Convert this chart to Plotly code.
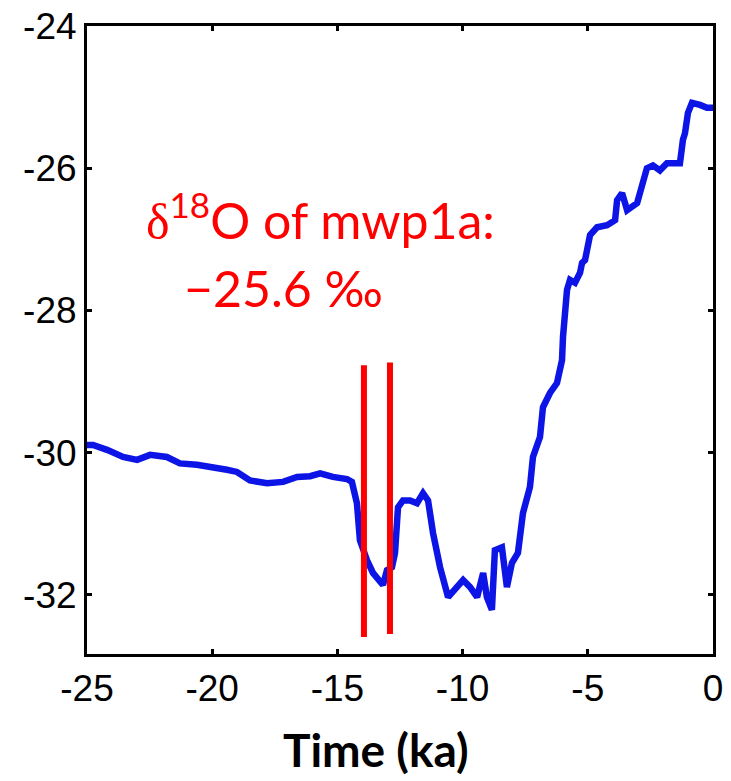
import plotly.graph_objects as go

# Time (ka) and d18O values
time_ka = [
    -25.0, -24.76, -24.2, -23.56, -23.0, -22.48, -21.81, -21.29, -20.61, -19.97,
    -19.41, -19.01, -18.49, -17.81, -17.17, -16.61, -16.09, -15.69, -15.18, -14.62,
    -14.42, -14.22, -14.10, -13.82, -13.58, -13.18, -13.02, -12.82, -12.70, -12.58,
    -12.38, -12.10, -11.82, -11.58, -11.38, -11.18, -10.90, -10.58, -10.22, -9.98,
    -9.70, -9.42, -9.18, -9.03, -8.83, -8.71, -8.43, -8.23, -8.03, -7.79,
    -7.59, -7.31, -7.19, -6.91, -6.79, -6.51, -6.23, -6.03, -5.99, -5.91,
    -5.83, -5.71, -5.51, -5.31, -5.23, -5.11, -4.99, -4.91, -4.63, -4.23,
    -3.91, -3.83, -3.63, -3.43, -3.03, -2.84, -2.64, -2.40, -2.12, -1.84,
    -1.32, -1.20, -1.12, -1.00, -0.84, -0.52, -0.24, 0.0,
]
d18o = [
    -29.89, -29.89, -29.96, -30.06, -30.10, -30.03, -30.06, -30.15, -30.17, -30.20,
    -30.24, -30.27, -30.39, -30.43, -30.41, -30.34, -30.33, -30.29, -30.34, -30.37,
    -30.41, -30.71, -31.23, -31.51, -31.69, -31.86, -31.65, -31.61, -31.41, -30.77,
    -30.67, -30.67, -30.71, -30.57, -30.67, -31.13, -31.61, -32.03, -31.90, -31.79,
    -31.89, -32.03, -31.69, -32.03, -32.21, -31.37, -31.33, -31.89, -31.55, -31.41,
    -30.85, -30.48, -30.06, -29.78, -29.36, -29.16, -29.02, -28.70, -28.37, -28.04,
    -27.71, -27.57, -27.61, -27.47, -27.33, -27.29, -27.01, -26.94, -26.83, -26.80,
    -26.73, -26.45, -26.35, -26.59, -26.49, -26.21, -26.00, -25.96, -26.03, -25.93,
    -25.93, -25.60, -25.51, -25.22, -25.08, -25.11, -25.15, -25.15,
]

# mwp1a marker lines (time, bottom, top)
marker_time = [-13.94, -12.90]
marker_bottom = [-32.59, -32.55]
marker_top = [-28.77, -28.73]

x_tickvals = [-25, -20, -15, -10, -5, 0]
x_ticktext = ["-25", "-20", "-15", "-10", "-5", "0"]
y_tickvals = [-24, -26, -28, -30, -32]
y_ticktext = ["-24", "-26", "-28", "-30", "-32"]

fig = go.Figure()
fig.add_trace(go.Scatter(x=time_ka, y=d18o, mode="lines",
                         line=dict(color="rgb(12,20,230)", width=6.5),
                         showlegend=False, hoverinfo="skip"))
for t, b, tp in zip(marker_time, marker_bottom, marker_top):
    fig.add_trace(go.Scatter(x=[t, t], y=[b, tp], mode="lines",
                             line=dict(color="#ff0000", width=6),
                             showlegend=False, hoverinfo="skip"))

tickfont = dict(family="Liberation Sans, Arial, sans-serif", size=37, color="black")
axis_common = dict(showline=True, linecolor="black", linewidth=3, mirror="ticks",
                   ticks="inside", ticklen=5, tickwidth=3, tickcolor="black",
                   showgrid=False, zeroline=False, tickfont=tickfont, automargin=False,
                   ticklabeloverflow="allow")

fig.update_xaxes(range=[-25, 0], tickvals=x_tickvals, ticktext=x_ticktext, **axis_common)
fig.update_yaxes(range=[-32.83, -24], tickvals=y_tickvals, ticktext=y_ticktext, **axis_common)

red_font = dict(family="Lato, Open Sans, sans-serif", size=50, color="#ff0000")
fig.add_annotation(xref="paper", yref="paper", x=0.0907, y=0.697, xanchor="left", yanchor="middle",
                   text="<span style=\"font-family:'Liberation Serif'\">δ</span><sup>18</sup>O of mwp1a:",
                   showarrow=False, font=red_font)
fig.add_annotation(xref="paper", yref="paper", x=0.1518, y=0.583, xanchor="left", yanchor="middle",
                   text="−25.6 ‰", showarrow=False, font=red_font)
fig.add_annotation(xref="paper", yref="paper", x=0.4617, y=-0.152, xanchor="center", yanchor="middle",
                   text="<b>Time (ka)</b>", showarrow=False,
                   font=dict(family="Lato, Open Sans, sans-serif", size=46, color="black"))

# page body adds an 8px margin, so the figure is sized and offset to compensate
fig.update_layout(width=723, height=773, margin=dict(l=79, r=18, t=18, b=127),
                  plot_bgcolor="white", paper_bgcolor="white")
fig.write_html("out.html")
